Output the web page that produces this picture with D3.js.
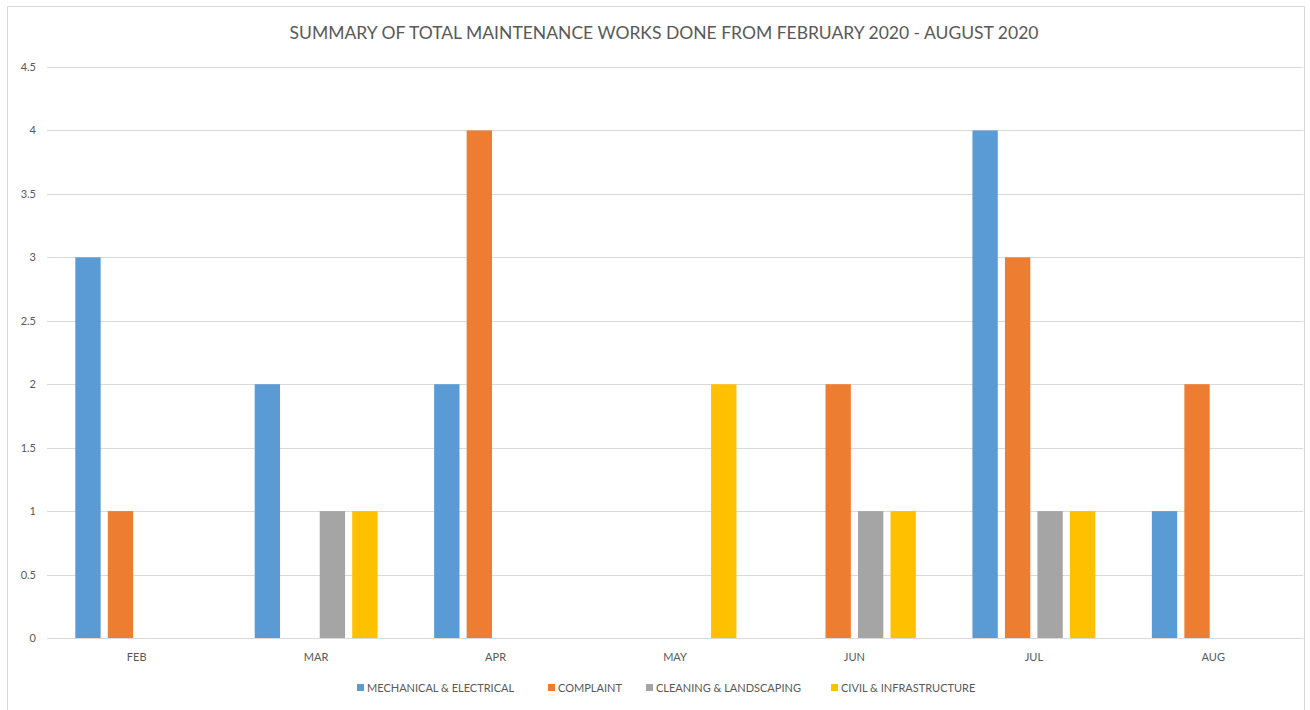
<!DOCTYPE html>
<html><head><meta charset="utf-8">
<script src="https://cdn.jsdelivr.net/npm/d3@7"></script>
<style>
html,body{margin:0;padding:0;background:#fff;}
svg text{font-family:Lato,"Open Sans",sans-serif;fill:#595959;}
</style></head>
<body>
<svg id="c" width="1310" height="710"></svg>
<script>
const months = ["FEB","MAR","APR","MAY","JUN","JUL","AUG"];
const seriesNames = ["MECHANICAL & ELECTRICAL","COMPLAINT","CLEANING & LANDSCAPING","CIVIL & INFRASTRUCTURE"];
const mechanical = [3,2,2,0,0,4,1];
const complaint = [1,0,4,0,2,3,2];
const cleaning = [0,1,0,0,1,1,0];
const civil = [0,1,0,2,1,1,0];
const yTicks = [0,0.5,1,1.5,2,2.5,3,3.5,4,4.5];
const colors = ["#5B9BD5","#ED7D31","#A5A5A5","#FFC000"];
const title = "SUMMARY OF TOTAL MAINTENANCE WORKS DONE FROM FEBRUARY 2020 - AUGUST 2020";

const allSeries = [mechanical, complaint, cleaning, civil];
const svg = d3.select("#c");

// chart border
svg.append("rect").attr("x",7.5).attr("y",6.5).attr("width",1297).attr("height",712)
  .attr("fill","#fff").attr("stroke","#d9d9d9").attr("stroke-width",1);

const pL = 47, pR = 1303, pT = 67, pB = 638;
const y = d3.scaleLinear().domain([0,4.5]).range([pB, pT]);
const x0 = d3.scaleBand().domain(months).range([pL,pR]).padding(0);
const groupW = 130;
const x1 = d3.scaleBand().domain(d3.range(4)).range([0,groupW]).paddingInner(0.22).paddingOuter(0.11);

// gridlines
svg.append("g").selectAll("line").data(yTicks).join("line")
  .attr("x1",pL).attr("x2",pR)
  .attr("y1",d=>Math.round(y(d))+0.5).attr("y2",d=>Math.round(y(d))+0.5)
  .attr("stroke","#d9d9d9").attr("stroke-width",1);

// y labels
const yAxis = d3.axisLeft(y).tickValues(yTicks).tickSize(0).tickPadding(0).tickFormat(d=>String(d));
const ga = svg.append("g").attr("transform",`translate(36,0)`).call(yAxis);
ga.select(".domain").remove();
ga.selectAll("text").attr("font-size",11).attr("fill","#595959").style("font-family","Lato, 'Open Sans', sans-serif");

// bars
const groups = svg.append("g").selectAll("g").data(months).join("g")
  .attr("transform",d=>`translate(${x0(d)+(x0.bandwidth()-groupW)/2},0)`);
groups.selectAll("rect").data((m,i)=>allSeries.map((s,k)=>({k, v:s[i]})).filter(d=>d.v>0)).join("rect")
  .attr("x",d=>x1(d.k)).attr("width",x1.bandwidth())
  .attr("y",d=>y(d.v)).attr("height",d=>y(0)-y(d.v))
  .attr("fill",d=>colors[d.k]);

// x labels
const xAxis = d3.axisBottom(x0).tickSize(0).tickPadding(0);
const gx = svg.append("g").attr("transform",`translate(0,${pB+15})`).call(xAxis);
gx.select(".domain").remove();
gx.selectAll("text").attr("font-size",11).attr("fill","#595959").style("font-family","Lato, 'Open Sans', sans-serif");

// title
svg.append("text").attr("x",664).attr("y",39).attr("text-anchor","middle")
  .attr("font-size",17.5).text(title);

// legend
const legendX = [357,548,646,831];
const lg = svg.append("g").selectAll("g").data(seriesNames).join("g")
  .attr("transform",(d,i)=>`translate(${legendX[i]},688)`);
lg.append("rect").attr("x",0).attr("y",-4).attr("width",7).attr("height",7).attr("fill",(d,i)=>colors[i]);
lg.append("text").attr("x",10).attr("y",4).attr("font-size",11).text(d=>d);
</script>
</body></html>
